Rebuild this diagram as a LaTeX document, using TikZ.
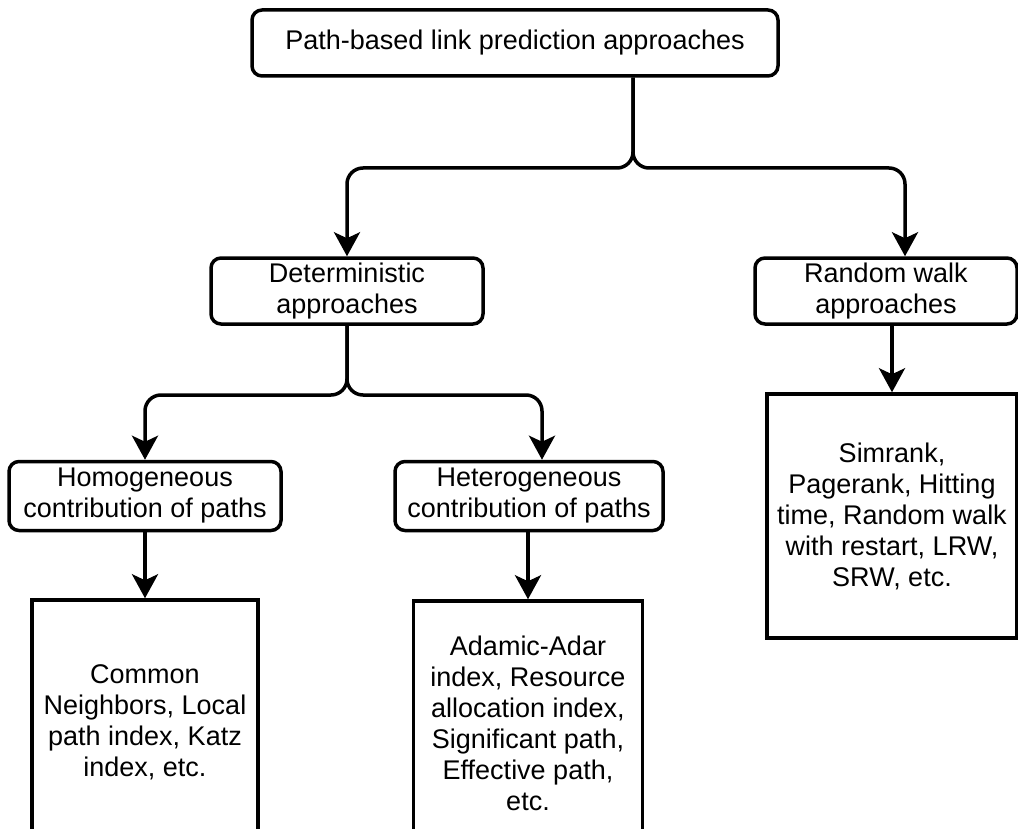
\documentclass[tikz,border=0pt]{standalone}
\usepackage{fontspec}
\setmainfont{Liberation Sans}
\usepackage{tikz}
\usetikzlibrary{arrows.meta}

\tikzset{
    box/.style={draw, line width=1.75pt, rounded corners=5pt, align=center, inner sep=0pt,
                font=\fontsize{13.5}{15.5}\selectfont},
    leaf/.style={box, rounded corners=0pt},
    arr/.style={line width=1.75pt, rounded corners=8pt, -{Stealth[length=12pt,width=13pt,inset=3pt]}}
}

\begin{document}
\begin{tikzpicture}[x=0.5pt, y=-0.5pt]
                    \useasboundingbox (0,0) rectangle (1018,829);
                    \clip (0,0) rectangle (1018,829);
                    \node[box, minimum width=263pt, minimum height=33pt] (top) at (515,43) {Path-based link prediction approaches};
                    \node[box, minimum width=136pt, minimum height=33pt] (det) at (347,291) {Deterministic\\approaches};
                    \node[box, minimum width=131pt, minimum height=33pt] (rw) at (886,291) {Random walk\\approaches};
                    \node[box, minimum width=136pt, minimum height=34.5pt] (homog) at (145,496) {Homogeneous\\contribution of paths};
                    \node[box, minimum width=134pt, minimum height=34.5pt] (heter) at (529,496) {Heterogeneous\\contribution of paths};
                    \node[leaf, minimum width=113pt, minimum height=122pt] (common) at (145,722) {Common\\Neighbors, Local\\path index, Katz\\index, etc.};
                    \node[leaf, minimum width=114.5pt, minimum height=122pt] (adamic) at (528,723) {Adamic-Adar\\index, Resource\\allocation index,\\Significant path,\\Effective path,\\etc.};
                    \node[leaf, minimum width=125pt, minimum height=122pt] (simrank) at (892,516) {Simrank,\\Pagerank, Hitting\\time, Random walk\\with restart, LRW,\\SRW, etc.};
                    % junctions of the braces
                    \coordinate (j1) at (633,168);
                    \coordinate (j2) at (347,395);
                        \draw[arr] (top.south -| j1) -- (j1) -| (det.north);
                        \draw[arr] (top.south -| j1) -- (j1) -| ([xshift=9.5pt]rw.north);
                        \draw[arr] (det.south) -- (j2) -| (homog.north);
                        \draw[arr] (det.south) -- (j2) -| ([xshift=6.5pt]heter.north);
                        \draw[arr] (rw.south -| simrank.north) -- (simrank.north);
                        \draw[arr] (homog.south) -- (common.north);
                        \draw[arr] (heter.south -| adamic.north) -- (adamic.north);
                \end{tikzpicture}
\end{document}
